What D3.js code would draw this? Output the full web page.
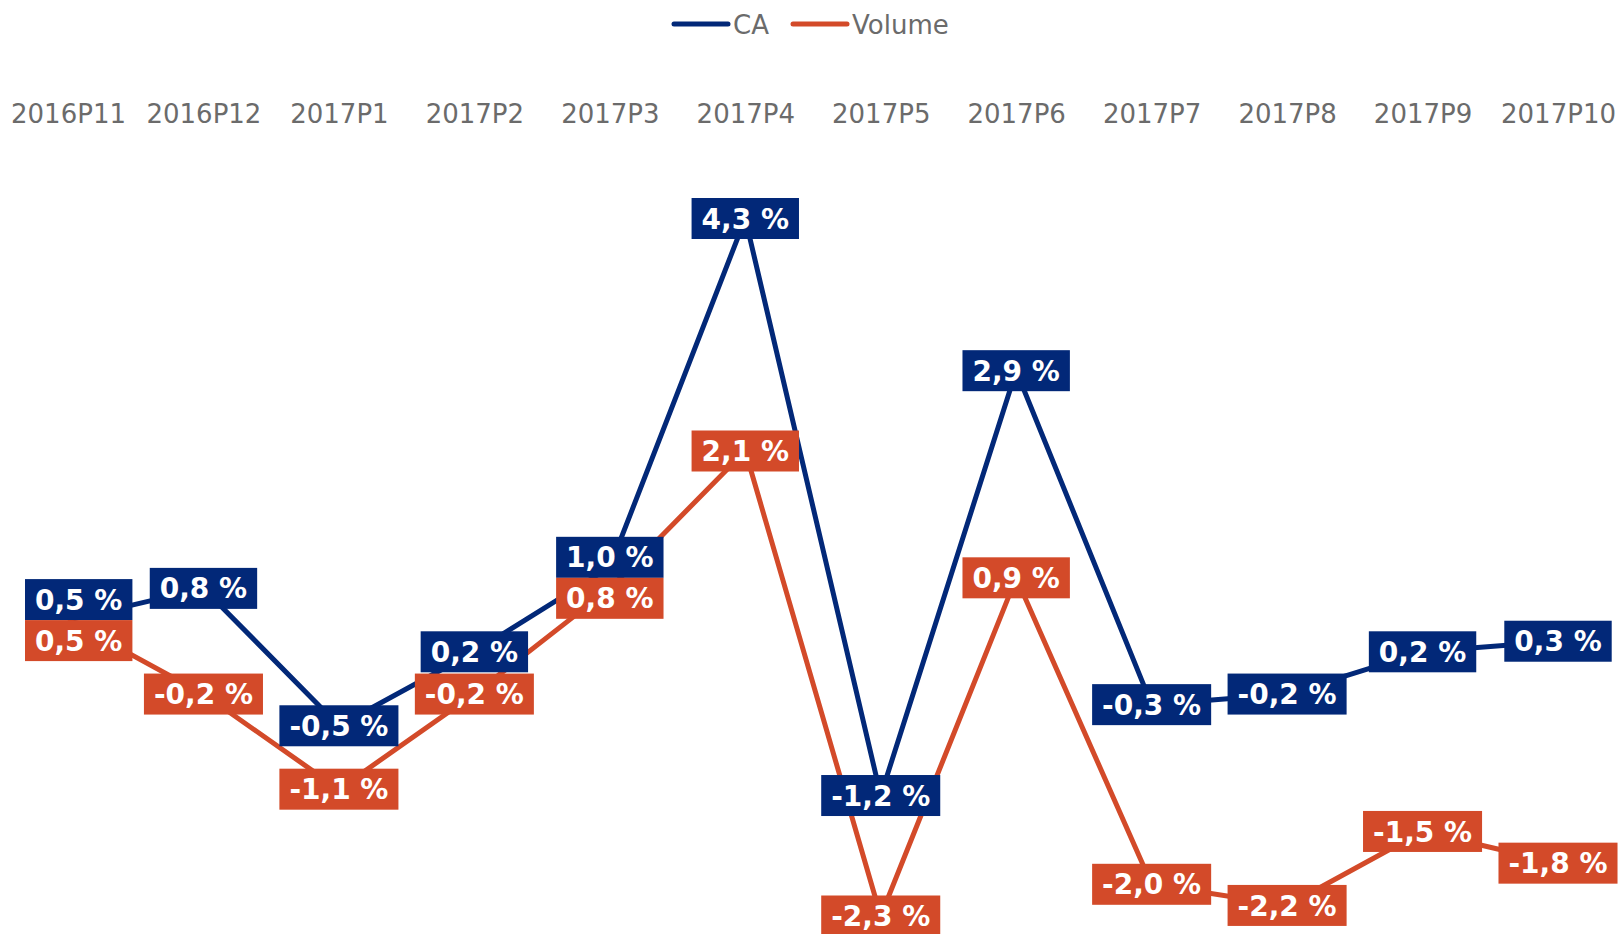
<!DOCTYPE html>
<html>
<head>
<meta charset="utf-8">
<script src="https://cdn.jsdelivr.net/npm/d3@7/dist/d3.min.js"></script>
<style>
  body { margin: 0; background: #fff; }
  svg { display: block; }
</style>
</head>
<body>
<svg id="chart"></svg>
<script>
// data (values estimated from the line vertices, labels show one decimal)
var periods = ["2016P11", "2016P12", "2017P1", "2017P2", "2017P3", "2017P4",
               "2017P5", "2017P6", "2017P7", "2017P8", "2017P9", "2017P10"];
var caValues     = [0.5, 0.8, -0.5, 0.2, 1.0, 4.3, -1.16, 2.86, -0.3, -0.2, 0.2, 0.3];
var volumeValues = [0.5, -0.2, -1.1, -0.2, 0.8, 2.1, -2.3, 0.9, -2.0, -2.2, -1.5, -1.8];
var seriesNames  = ["CA", "Volume"];

var screen = {width: 1619, height: 934};
var colors = {CA: "#022878", Volume: "#d34a29"};
var boxH = 41;
var plotLeft = 25;

var svg = d3.select("#chart")
    .attr("width", screen.width)
    .attr("height", screen.height);

var xScale = d3.scalePoint()
    .domain(periods)
    .range([68, 1558]);

var yScale = d3.scaleLinear()
    .domain([-2.3, 4.3])
    .range([916, 218.5]);

var fmt = function(v) {
    return d3.format(".1f")(v).replace(".", ",").replace("−", "-") + " %";
};

// category labels on top
var xAxis = d3.axisTop(xScale).tickSize(0).tickPadding(0);
var axisG = svg.append("g")
    .attr("transform", "translate(0,123)")
    .call(xAxis);
axisG.select(".domain").remove();
axisG.selectAll("text")
    .attr("fill", "#6b6b6b")
    .style("font-family", "'DejaVu Sans', Verdana, sans-serif")
    .style("font-size", "26px");

// legend
var legend = [
    {name: seriesNames[0], x1: 674, x2: 728, tx: 733},
    {name: seriesNames[1], x1: 793, x2: 847, tx: 852}
];
var lg = svg.append("g");
lg.selectAll("line")
    .data(legend)
    .enter()
    .append("line")
    .attr("x1", function(d) { return d.x1; })
    .attr("x2", function(d) { return d.x2; })
    .attr("y1", 24)
    .attr("y2", 24)
    .attr("stroke", function(d) { return colors[d.name]; })
    .attr("stroke-width", 5)
    .attr("stroke-linecap", "round");
lg.selectAll("text")
    .data(legend)
    .enter()
    .append("text")
    .attr("x", function(d) { return d.tx; })
    .attr("y", 33.5)
    .attr("fill", "#6b6b6b")
    .style("font-family", "'DejaVu Sans', Verdana, sans-serif")
    .style("font-size", "26px")
    .text(function(d) { return d.name; });

var series = [
    {name: seriesNames[0], values: caValues},
    {name: seriesNames[1], values: volumeValues}
];

var line = d3.line()
    .x(function(d, i) { return xScale(periods[i]); })
    .y(function(d) { return yScale(d); });

// lines first
svg.append("g")
    .selectAll("path")
    .data(series)
    .enter()
    .append("path")
    .attr("fill", "none")
    .attr("stroke", function(d) { return colors[d.name]; })
    .attr("stroke-width", 5)
    .attr("stroke-linejoin", "round")
    .attr("d", function(d) { return line(d.values); });

// label positions, pushed apart when both labels collide
var labelY = function(s, i) {
    var yc = yScale(caValues[i]);
    var yv = yScale(volumeValues[i]);
    var y = s === "CA" ? yc : yv;
    if (Math.abs(yc - yv) < boxH) {
        var mid = (yc + yv) / 2;
        var caTop = caValues[i] >= volumeValues[i];
        if (s === "CA") y = caTop ? mid - boxH / 2 : mid + boxH / 2;
        else y = caTop ? mid + boxH / 2 : mid - boxH / 2;
    }
    return y;
};

series.forEach(function(s) {
    var g = svg.append("g").attr("class", "labels-" + s.name);
    var items = g.selectAll("g")
        .data(s.values)
        .enter()
        .append("g");
    var rects = items.append("rect")
        .attr("fill", colors[s.name]);
    var texts = items.append("text")
        .attr("text-anchor", "middle")
        .attr("dy", "0.36em")
        .attr("fill", "#ffffff")
        .style("font-family", "'DejaVu Sans', Verdana, sans-serif")
        .style("font-weight", "bold")
        .style("font-size", "28px")
        .text(function(d) { return fmt(d); });
    texts.each(function(d, i) {
        var w = this.getComputedTextLength() + 20;
        var cx = xScale(periods[i]);
        // keep labels inside the plot area
        if (cx - w / 2 < plotLeft) cx = plotLeft + w / 2;
        d3.select(items.nodes()[i])
            .attr("transform", "translate(" + cx + "," + labelY(s.name, i) + ")");
        d3.select(rects.nodes()[i])
            .attr("x", -w / 2)
            .attr("y", -boxH / 2)
            .attr("width", w)
            .attr("height", boxH);
    });
});
</script>
</body>
</html>
